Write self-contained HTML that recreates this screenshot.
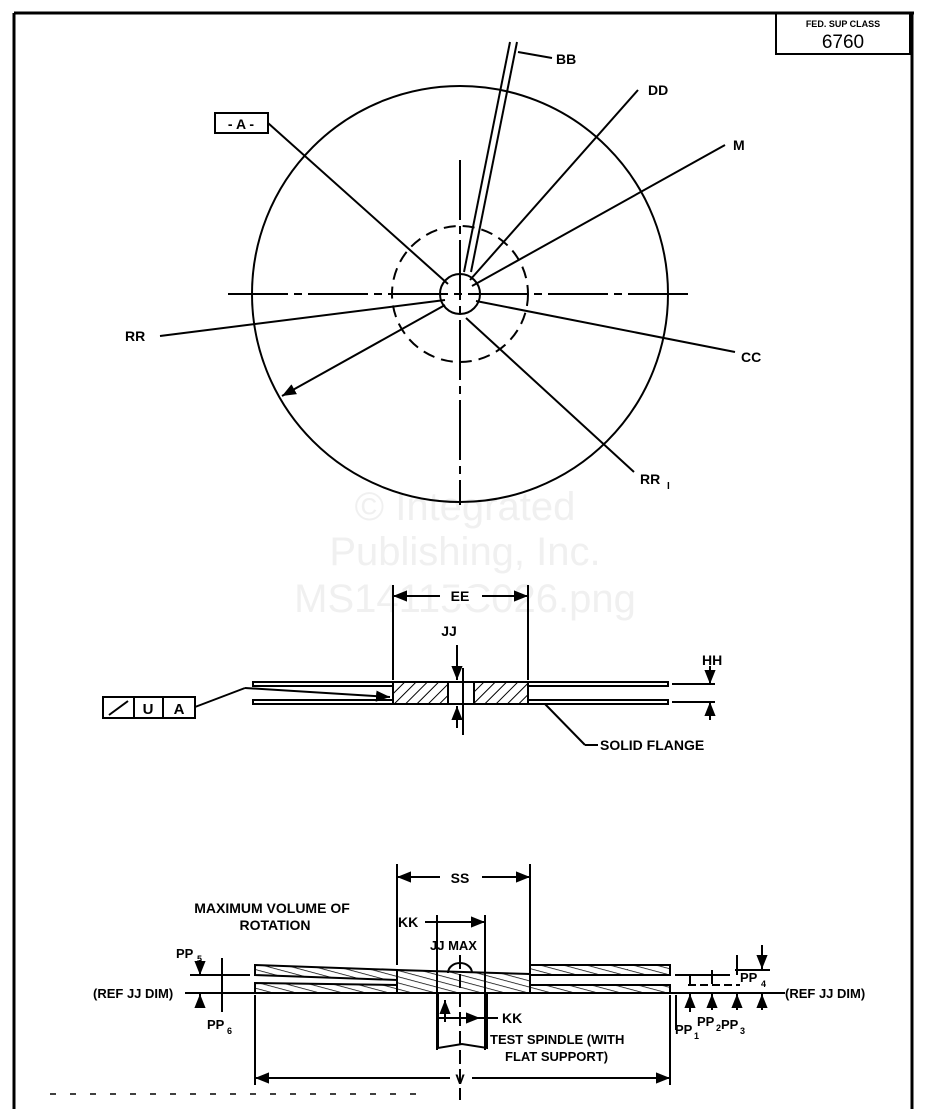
<!DOCTYPE html>
<html><head><meta charset="utf-8"><style>
html,body{margin:0;padding:0;background:#fff;}
svg{display:block;}
text{font-family:"Liberation Sans",sans-serif;font-weight:bold;fill:#000;}
text.wm{font-weight:normal;fill:#f0f0f0;}
</style></head><body>
<svg width="930" height="1109" viewBox="0 0 930 1109" xmlns="http://www.w3.org/2000/svg">
<defs>
<marker id="ar" viewBox="0 0 10 10" refX="10" refY="5" markerWidth="7" markerHeight="7" orient="auto-start-reverse"><path d="M0,1 L10,5 L0,9 z" fill="#000"/></marker>
<pattern id="h" width="8" height="8" patternUnits="userSpaceOnUse" patternTransform="rotate(45)"><line x1="0" y1="0" x2="0" y2="8" stroke="#000" stroke-width="2"/></pattern>
<pattern id="h2" width="10" height="6" patternUnits="userSpaceOnUse" patternTransform="rotate(15)"><line x1="0" y1="0" x2="10" y2="0" stroke="#000" stroke-width="1.5"/></pattern>
</defs>
<text class="wm" x="465" y="520" font-size="40" text-anchor="middle">© Integrated</text>
<text class="wm" x="465" y="565" font-size="40" text-anchor="middle">Publishing, Inc.</text>
<text class="wm" x="465" y="612" font-size="40" text-anchor="middle">MS14115C026.png</text>
<g stroke="#000" fill="none" stroke-width="2">
<!-- frame -->
<line x1="14" y1="13" x2="914" y2="13" stroke-width="3"/>
<line x1="14" y1="13" x2="14" y2="1109" stroke-width="3"/>
<line x1="912" y1="13" x2="912" y2="1109" stroke-width="3"/>
<rect x="776" y="13" width="134" height="41"/>
<line x1="50" y1="1094" x2="420" y2="1094" stroke-dasharray="6 14" stroke-width="1.5"/>
<!-- top view -->
<circle cx="460" cy="294" r="208"/>
<circle cx="460" cy="294" r="68" stroke-dasharray="12 7"/>
<circle cx="460" cy="294" r="20"/>
<line x1="228" y1="294" x2="688" y2="294" stroke-dasharray="60 6 8 6"/>
<line x1="460" y1="160" x2="460" y2="505" stroke-dasharray="60 6 8 6"/>
<rect x="215" y="113" width="53" height="20"/>
<line x1="268" y1="123" x2="448" y2="284"/>
<line x1="510" y1="42" x2="464" y2="272"/>
<line x1="517" y1="42" x2="471" y2="272"/>
<line x1="518" y1="52" x2="552" y2="58"/>
<line x1="638" y1="90" x2="470" y2="280"/>
<line x1="725" y1="145" x2="472" y2="286"/>
<line x1="735" y1="352" x2="476" y2="301"/>
<line x1="160" y1="336" x2="445" y2="300"/>
<line x1="634" y1="472" x2="466" y2="318"/>
<line x1="445" y1="305" x2="282" y2="396" marker-end="url(#ar)"/>
<!-- middle section -->
<line x1="393" y1="585" x2="393" y2="680"/>
<line x1="528" y1="585" x2="528" y2="680"/>
<line x1="393" y1="596" x2="440" y2="596" marker-start="url(#ar)"/>
<line x1="482" y1="596" x2="528" y2="596" marker-end="url(#ar)"/>
<line x1="457" y1="645" x2="457" y2="680" marker-end="url(#ar)"/>
<line x1="457" y1="728" x2="457" y2="706" marker-end="url(#ar)"/>
<line x1="463" y1="668" x2="463" y2="735"/>
<rect x="253" y="682" width="140" height="4"/>
<rect x="253" y="700" width="140" height="4"/>
<rect x="528" y="682" width="140" height="4"/>
<rect x="528" y="700" width="140" height="4"/>
<rect x="393" y="682" width="55" height="22" fill="url(#h)"/>
<rect x="474" y="682" width="54" height="22" fill="url(#h)"/>
<rect x="448" y="682" width="26" height="22"/>
<line x1="672" y1="684" x2="715" y2="684"/>
<line x1="672" y1="702" x2="715" y2="702"/>
<line x1="710" y1="666" x2="710" y2="684" marker-end="url(#ar)"/>
<line x1="710" y1="720" x2="710" y2="702" marker-end="url(#ar)"/>
<rect x="103" y="697" width="92" height="21"/>
<line x1="134" y1="697" x2="134" y2="718"/>
<line x1="163" y1="697" x2="163" y2="718"/>
<line x1="109" y1="715" x2="128" y2="701"/>
<line x1="195" y1="707" x2="245" y2="688"/>
<line x1="245" y1="688" x2="390" y2="697" marker-end="url(#ar)"/>
<line x1="545" y1="704" x2="585" y2="745"/>
<line x1="585" y1="745" x2="598" y2="745"/>
<!-- bottom section -->
<line x1="397" y1="864" x2="397" y2="965"/>
<line x1="530" y1="864" x2="530" y2="965"/>
<line x1="397" y1="877" x2="440" y2="877" marker-start="url(#ar)"/>
<line x1="482" y1="877" x2="530" y2="877" marker-end="url(#ar)"/>
<line x1="485" y1="915" x2="485" y2="1050"/>
<line x1="425" y1="922" x2="485" y2="922" marker-end="url(#ar)"/>
<line x1="437" y1="915" x2="437" y2="1050"/>
<path d="M255,965 L397,970 L397,980 L255,975 z" fill="url(#h2)"/>
<path d="M255,983 L397,985 L397,993 L255,993 z" fill="url(#h2)"/>
<path d="M397,970 L530,974 L530,993 L397,993 z" fill="url(#h2)"/>
<path d="M530,965 L670,965 L670,975 L530,975 z" fill="url(#h2)"/>
<path d="M530,985 L670,985 L670,993 L530,993 z" fill="url(#h2)"/>
<path d="M448,973 a12,10 0 0 1 24,0"/>
<line x1="460" y1="955" x2="460" y2="1100" stroke-dasharray="14 5"/>
<path d="M438,993 L438,1048 L462,1044 L487,1048 L487,993"/>
<line x1="445" y1="1022" x2="445" y2="1000" marker-end="url(#ar)"/>
<line x1="437" y1="1018" x2="480" y2="1018" marker-end="url(#ar)"/>
<line x1="480" y1="1018" x2="498" y2="1018"/>
<line x1="185" y1="993" x2="785" y2="993"/>
<line x1="190" y1="975" x2="250" y2="975"/>
<line x1="200" y1="960" x2="200" y2="975" marker-end="url(#ar)"/>
<line x1="200" y1="1008" x2="200" y2="994" marker-end="url(#ar)"/>
<line x1="222" y1="958" x2="222" y2="1012"/>
<line x1="255" y1="995" x2="255" y2="1085"/>
<line x1="670" y1="995" x2="670" y2="1085"/>
<line x1="255" y1="1078" x2="450" y2="1078" marker-start="url(#ar)"/>
<line x1="472" y1="1078" x2="670" y2="1078" marker-end="url(#ar)"/>
<line x1="675" y1="975" x2="730" y2="975"/>
<line x1="735" y1="970" x2="770" y2="970"/>
<line x1="688" y1="985" x2="740" y2="985" stroke-dasharray="8 4"/>
<line x1="690" y1="1012" x2="690" y2="994" marker-end="url(#ar)"/>
<line x1="712" y1="1010" x2="712" y2="994" marker-end="url(#ar)"/>
<line x1="737" y1="1010" x2="737" y2="994" marker-end="url(#ar)"/>
<line x1="762" y1="1010" x2="762" y2="994" marker-end="url(#ar)"/>
<line x1="762" y1="945" x2="762" y2="969" marker-end="url(#ar)"/>
<line x1="737" y1="955" x2="737" y2="975"/>
<line x1="712" y1="970" x2="712" y2="984"/>
<line x1="690" y1="975" x2="690" y2="984"/>
<line x1="676" y1="995" x2="676" y2="1030"/>
</g>
<text x="843" y="27" font-size="9" text-anchor="middle">FED. SUP CLASS</text>
<text x="843" y="48" font-size="19" text-anchor="middle" style="font-weight:normal">6760</text>
<text x="241" y="129" font-size="14" text-anchor="middle">- A -</text>
<text x="556" y="64" font-size="14">BB</text>
<text x="648" y="95" font-size="14">DD</text>
<text x="733" y="150" font-size="14">M</text>
<text x="741" y="362" font-size="14">CC</text>
<text x="125" y="341" font-size="14">RR</text>
<text x="640" y="484" font-size="14">RR</text><text x="667" y="489" font-size="10">I</text>
<rect x="442" y="588" width="38" height="16" fill="#fff"/>
<text x="460" y="601" font-size="14" text-anchor="middle">EE</text>
<text x="449" y="636" font-size="14" text-anchor="middle">JJ</text>
<text x="702" y="665" font-size="14">HH</text>
<text x="148" y="714" font-size="15" text-anchor="middle">U</text>
<text x="179" y="714" font-size="15" text-anchor="middle">A</text>
<text x="600" y="750" font-size="14">SOLID FLANGE</text>
<text x="460" y="883" font-size="14" text-anchor="middle">SS</text>
<text x="272" y="913" font-size="14" text-anchor="middle">MAXIMUM VOLUME OF</text>
<text x="275" y="930" font-size="14" text-anchor="middle">ROTATION</text>
<text x="398" y="927" font-size="14">KK</text>
<text x="430" y="950" font-size="13">JJ MAX</text>
<text x="176" y="958" font-size="13">PP</text><text x="197" y="962" font-size="9">5</text>
<text x="93" y="998" font-size="13">(REF JJ DIM)</text>
<text x="207" y="1029" font-size="13">PP</text><text x="227" y="1034" font-size="9">6</text>
<text x="502" y="1023" font-size="14">KK</text>
<text x="490" y="1044" font-size="13">TEST SPINDLE (WITH</text>
<text x="505" y="1061" font-size="13">FLAT SUPPORT)</text>
<text x="460" y="1084" font-size="14" text-anchor="middle">V</text>
<text x="740" y="982" font-size="13">PP</text><text x="761" y="987" font-size="9">4</text>
<text x="785" y="998" font-size="13">(REF JJ DIM)</text>
<text x="675" y="1034" font-size="13">PP</text><text x="694" y="1039" font-size="9">1</text>
<text x="697" y="1026" font-size="13">PP</text><text x="716" y="1031" font-size="9">2</text>
<text x="721" y="1029" font-size="13">PP</text><text x="740" y="1034" font-size="9">3</text>
</svg>
</body></html>
